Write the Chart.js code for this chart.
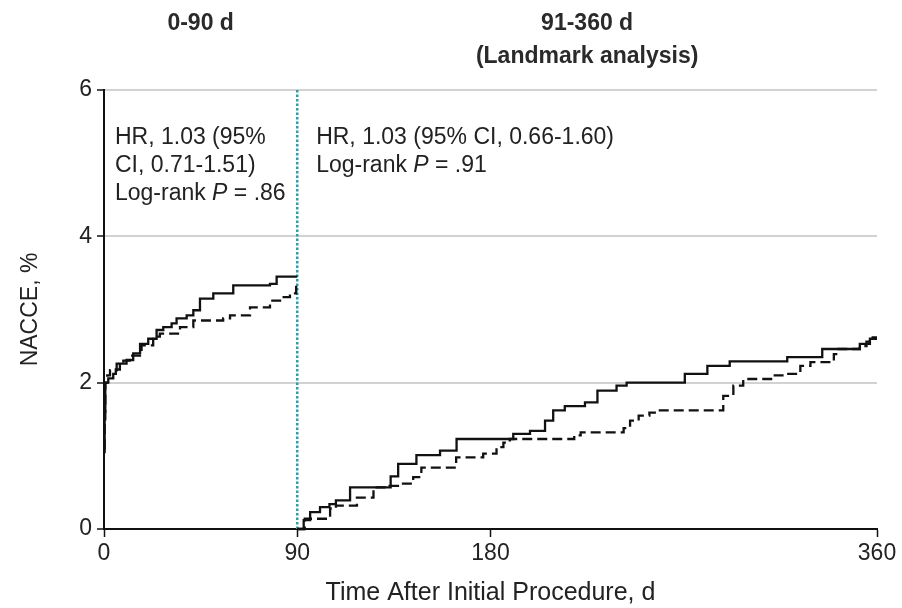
<!DOCTYPE html>
<html>
<head>
<meta charset="utf-8">
<script src="https://cdn.jsdelivr.net/npm/chart.js@4/dist/chart.umd.min.js"></script>
<style>
  html, body { margin: 0; padding: 0; background: #fff; }
  #wrap { width: 902px; height: 608px; }
</style>
</head>
<body>
<div id="wrap"><canvas id="km" width="902" height="608"></canvas></div>
<script>
// Cumulative NACCE incidence (%) — Kaplan-Meier style step curves
// Period 1: 0-90 d
const earlySolidDays   = [0, 0.3, 0.6, 2, 4.3, 5.5, 7.4, 10.5, 13.6, 16.8, 20.6, 24.5, 27.6, 31.5, 33.8, 38.5, 41.6, 44.7, 50.9, 60.2, 77.3, 80.4, 90];
const earlySolidValues = [1.05, 1.5, 2.0, 2.06, 2.12, 2.18, 2.26, 2.31, 2.4, 2.53, 2.6, 2.72, 2.76, 2.81, 2.88, 2.92, 2.99, 3.15, 3.22, 3.33, 3.35, 3.45, 3.45];

const earlyDashDays    = [0, 0.3, 0.6, 1.5, 2.8, 5.9, 9, 12, 17.5, 22.9, 26, 35.4, 41.6, 55.5, 58.7, 68, 77.3, 82, 86.6, 89.5, 90];
const earlyDashValues  = [1.1, 1.6, 2.0, 2.1, 2.17, 2.26, 2.3, 2.37, 2.51, 2.63, 2.67, 2.76, 2.85, 2.88, 2.92, 3.03, 3.12, 3.17, 3.22, 3.33, 3.33];

// Period 2: 91-360 d (landmark analysis)
const lateSolidDays    = [90, 93, 96, 100.6, 105, 108, 114.6, 133.5, 137, 145.5, 156.5, 164.2, 190.6, 198.4, 205.4, 209.2, 214.6, 224, 229.8, 238.7, 243.4, 270.5, 281, 291.4, 318.2, 334.5, 352, 356.7, 360];
const lateSolidValues  = [0, 0.12, 0.23, 0.3, 0.34, 0.39, 0.57, 0.72, 0.89, 1.01, 1.07, 1.23, 1.3, 1.34, 1.48, 1.62, 1.68, 1.73, 1.89, 1.96, 2.0, 2.12, 2.23, 2.29, 2.35, 2.46, 2.53, 2.6, 2.6];

const lateDashDays     = [90, 93.5, 105.3, 108, 117.8, 125.5, 133, 137.8, 144, 147.8, 164, 176.6, 182.8, 186, 189, 219, 222, 242, 245, 249, 254, 258, 288.4, 293.1, 297.7, 311.8, 318, 324.3, 329, 339.9, 341, 352, 355.1, 358, 360];
const lateDashValues   = [0, 0.14, 0.28, 0.32, 0.43, 0.57, 0.59, 0.62, 0.71, 0.84, 0.98, 1.03, 1.12, 1.18, 1.23, 1.28, 1.32, 1.38, 1.48, 1.55, 1.59, 1.62, 1.82, 1.96, 2.05, 2.1, 2.12, 2.23, 2.28, 2.39, 2.46, 2.5, 2.56, 2.62, 2.62];

// Landmark boundary
const landmarkDay = 90;

// Axis ticks
const xTickValues = [0, 90, 180, 360];
const yTickValues = [0, 2, 4, 6];

// Panel headings and statistics
const periodHeadings = [
  { day: 45,  lines: ['0-90 d'] },
  { day: 225, lines: ['91-360 d', '(Landmark analysis)'] }
];
const statBlocks = [
  { day: 5.1,  lines: ['HR, 1.03 (95%', 'CI, 0.71-1.51)'], p: '.86' },
  { day: 98.8, lines: ['HR, 1.03 (95% CI, 0.66-1.60)'],   p: '.91' }
];

const FONT = "'Liberation Sans', Arial, sans-serif";
const INK = '#222';

function pairs(days, values) {
  return days.map((d, i) => ({ x: d, y: values[i] }));
}

function curve(days, values, dashed) {
  return {
    data: pairs(days, values),
    borderColor: '#111',
    borderWidth: 2.3,
    borderDash: dashed ? [10, 5] : [],
    stepped: 'before',
    pointRadius: 0,
    fill: false,
    clip: 6
  };
}

const textPlugin = {
  id: 'panelText',
  afterDraw(chart) {
    const ctx = chart.ctx;
    const x = chart.scales.x;
    const top = chart.chartArea.top;
    ctx.save();
    ctx.textBaseline = 'alphabetic';

    // Period headings
    ctx.fillStyle = '#2a2a2a';
    ctx.font = 'bold 23px ' + FONT;
    ctx.textAlign = 'center';
    periodHeadings.forEach(h => {
      h.lines.forEach((line, i) => {
        ctx.fillText(line, x.getPixelForValue(h.day), 30 + i * 33);
      });
    });

    // HR and log-rank statistics
    ctx.fillStyle = INK;
    ctx.textAlign = 'left';
    statBlocks.forEach(b => {
      const px = x.getPixelForValue(b.day);
      let y = top + 54;
      ctx.font = '23px ' + FONT;
      b.lines.forEach(line => { ctx.fillText(line, px, y); y += 28; });
      let cx = px;
      ctx.font = '23px ' + FONT;
      ctx.fillText('Log-rank ', cx, y); cx += ctx.measureText('Log-rank ').width;
      ctx.font = 'italic 23px ' + FONT;
      ctx.fillText('P', cx, y); cx += ctx.measureText('P').width;
      ctx.font = '23px ' + FONT;
      ctx.fillText(' = ' + b.p, cx, y);
    });
    ctx.restore();
  }
};

new Chart(document.getElementById('km'), {
  type: 'line',
  data: {
    datasets: [
      curve(earlySolidDays, earlySolidValues, false),
      curve(earlyDashDays, earlyDashValues, true),
      curve(lateSolidDays, lateSolidValues, false),
      curve(lateDashDays, lateDashValues, true),
      {
        data: [{ x: landmarkDay, y: 0 }, { x: landmarkDay, y: 6 }],
        borderColor: '#22a3b3',
        borderWidth: 2.5,
        borderDash: [2.5, 2],
        pointRadius: 0,
        fill: false
      }
    ]
  },
  options: {
    responsive: false,
    animation: false,
    events: [],
    layout: { padding: { left: 0, top: 90, right: 25, bottom: 0 } },
    plugins: {
      legend: { display: false },
      tooltip: { enabled: false }
    },
    scales: {
      x: {
        type: 'linear',
        min: 0,
        max: 360,
        afterBuildTicks: s => { s.ticks = xTickValues.map(v => ({ value: v })); },
        afterFit: s => { s.height = 79; },
        border: { display: true, color: '#111', width: 2 },
        grid: { drawOnChartArea: false, drawTicks: true, tickLength: 8, tickColor: '#111', tickWidth: 1.5 },
        ticks: { color: INK, font: { family: FONT, size: 23 }, padding: 3, maxRotation: 0 },
        title: {
          display: true,
          text: 'Time After Initial Procedure, d',
          color: INK,
          font: { family: FONT, size: 25 },
          padding: { top: 0, bottom: 0 }
        }
      },
      y: {
        min: 0,
        max: 6,
        afterBuildTicks: s => { s.ticks = yTickValues.map(v => ({ value: v })); },
        afterFit: s => { s.width = 104; },
        border: { display: true, color: '#111', width: 2 },
        grid: {
          color: c => (c.tick && c.tick.value === 0) ? 'rgba(0,0,0,0)' : '#d2d2d2',
          lineWidth: 2,
          drawTicks: true,
          tickLength: 7,
          tickColor: '#111',
          tickWidth: 1.5
        },
        ticks: { color: INK, font: { family: FONT, size: 23 }, padding: 5 },
        title: {
          display: true,
          text: 'NACCE, %',
          color: INK,
          font: { family: FONT, size: 23 },
          padding: { top: 17, bottom: 0 }
        }
      }
    }
  },
  plugins: [textPlugin]
});
</script>
</body>
</html>
